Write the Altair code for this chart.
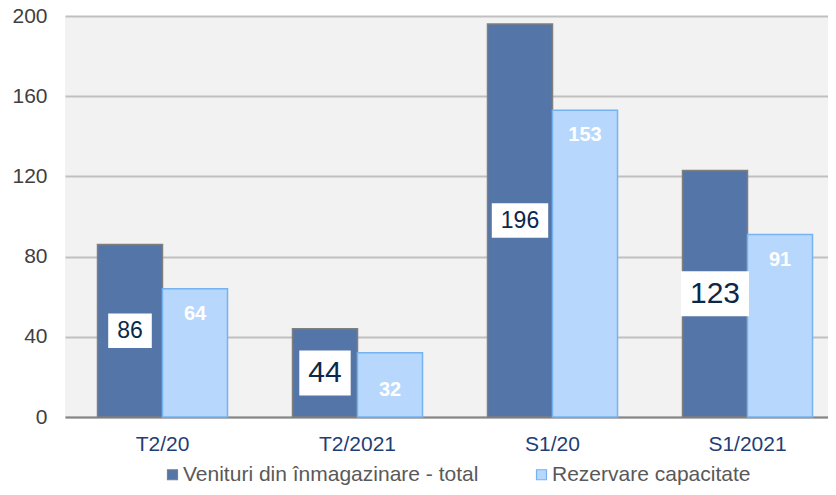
import altair as alt
import pandas as pd

# ---- data ----
categories = ["T2/20", "T2/2021", "S1/20", "S1/2021"]
series = ["Venituri din înmagazinare - total", "Rezervare capacitate"]
venituri = [86, 44, 196, 123]
rezervare = [64, 32, 153, 91]

# ---- styles ----
FONT = "Liberation Sans"
DARK = "#5475a8"
LIGHT = "#b7d8fc"
DARK_STROKE = "#7f7f7f"
LIGHT_STROKE = "#74b2f2"
BIG_LABEL = {"T2/2021": 30, "S1/2021": 30}   # font size of boxed labels (default 23)
LIGHT_DY = {"T2/2021": 37}                  # offset of light labels below bar top (default 25)

rows = []
for c, v1, v2 in zip(categories, venituri, rezervare):
    rows.append({"cat": c, "series": series[0], "value": v1})
    rows.append({"cat": c, "series": series[1], "value": v2})
df = pd.DataFrame(rows)

# box shapes for the dark labels (derived from label font size)
box_paths = []
fs_list = []
for c, v in zip(categories, venituri):
    fs = BIG_LABEL.get(c, 23)
    w = len(str(v)) * 0.556 * fs + 18
    h = 1.5 * fs
    box_paths.append(f"M{-w/2:.1f},{-h/2:.1f}H{w/2:.1f}V{h/2:.1f}H{-w/2:.1f}Z")
    fs_list.append(fs)

dark_df = pd.DataFrame({"cat": categories, "series": series[0], "value": venituri,
                        "fs": fs_list})
light_df = pd.DataFrame({"cat": categories, "series": series[1], "value": rezervare})
light_df["dy"] = [LIGHT_DY.get(c, 25) for c in categories]

x_enc = alt.X("cat:N", sort=categories,
              scale=alt.Scale(domain=categories, range=[0, 780],
                              paddingInner=1/3, paddingOuter=1/6),
              axis=alt.Axis(title=None, labelAngle=0, ticks=False, domain=True,
                            domainColor="#868686", domainWidth=2,
                            labelFontSize=21, labelColor="#1f3e74",
                            labelFont=FONT, labelPadding=16, grid=False))
xo_enc = alt.XOffset("series:N", sort=series,
                     scale=alt.Scale(domain=series, paddingInner=0, paddingOuter=0))
y_scale = alt.Scale(domain=[0, 200], nice=False)

bars = alt.Chart(df).mark_bar(strokeWidth=1.5).encode(
    x=x_enc,
    xOffset=xo_enc,
    y=alt.Y("value:Q", scale=y_scale,
            axis=alt.Axis(title=None, values=[0, 40, 80, 120, 160, 200],
                          grid=True, gridColor="#c0c0c0", gridWidth=2,
                          domain=False, ticks=False, labelFontSize=21,
                          labelColor="#404040", labelFont=FONT, labelPadding=18)),
    fill=alt.Fill("series:N", sort=series,
                  scale=alt.Scale(domain=series, range=[DARK, LIGHT]),
                  legend=alt.Legend(title=None, orient="none", legendX=97, legendY=448,
                                    direction="horizontal", symbolType="square",
                                    symbolSize=100, symbolStrokeWidth=1.2,
                                    labelFontSize=21, labelColor="#595959",
                                    labelFont=FONT, labelOffset=0, labelLimit=600,
                                    columnPadding=52, padding=0)),
    stroke=alt.Stroke("series:N", sort=series,
                      scale=alt.Scale(domain=series, range=[DARK_STROKE, LIGHT_STROKE])),
)

boxes = alt.Chart(dark_df).transform_calculate(mid="datum.value / 2").mark_point(
    filled=True, fill="white", opacity=1, size=4, strokeWidth=0
).encode(
    x=alt.X("cat:N", sort=categories),
    xOffset=alt.XOffset("series:N"),
    y=alt.Y("mid:Q"),
    shape=alt.Shape("cat:N", scale=alt.Scale(domain=categories, range=box_paths),
                    legend=None),
)

dark_text = alt.Chart(dark_df).transform_calculate(mid="datum.value / 2").mark_text(
    color="#0c2749", font=FONT, baseline="middle", align="center"
).encode(
    x=alt.X("cat:N", sort=categories),
    xOffset=alt.XOffset("series:N"),
    y=alt.Y("mid:Q"),
    text=alt.Text("value:Q"),
    size=alt.Size("fs:Q", scale=None, legend=None),
)

light_layers = []
for dy in sorted(set(light_df["dy"])):
    light_layers.append(
        alt.Chart(light_df[light_df["dy"] == dy]).mark_text(
            color="white", font=FONT, fontSize=20, fontWeight="bold",
            baseline="middle", align="center", dy=int(dy)
        ).encode(
            x=alt.X("cat:N", sort=categories),
            xOffset=alt.XOffset("series:N"),
            y=alt.Y("value:Q"),
            text=alt.Text("value:Q"),
        )
    )

chart = alt.layer(bars, boxes, dark_text, *light_layers).resolve_scale(
    x="shared", xOffset="shared", y="shared"
).properties(
    width=763, height=401,
    autosize=alt.AutoSizeParams(type="none"),
    padding={"left": 57, "top": 8, "right": 0, "bottom": 70},
    background="white",
).configure_view(
    fill="#f2f2f2", stroke=None
)

chart.save("out.html", embed_options={"renderer": "svg", "actions": False})
